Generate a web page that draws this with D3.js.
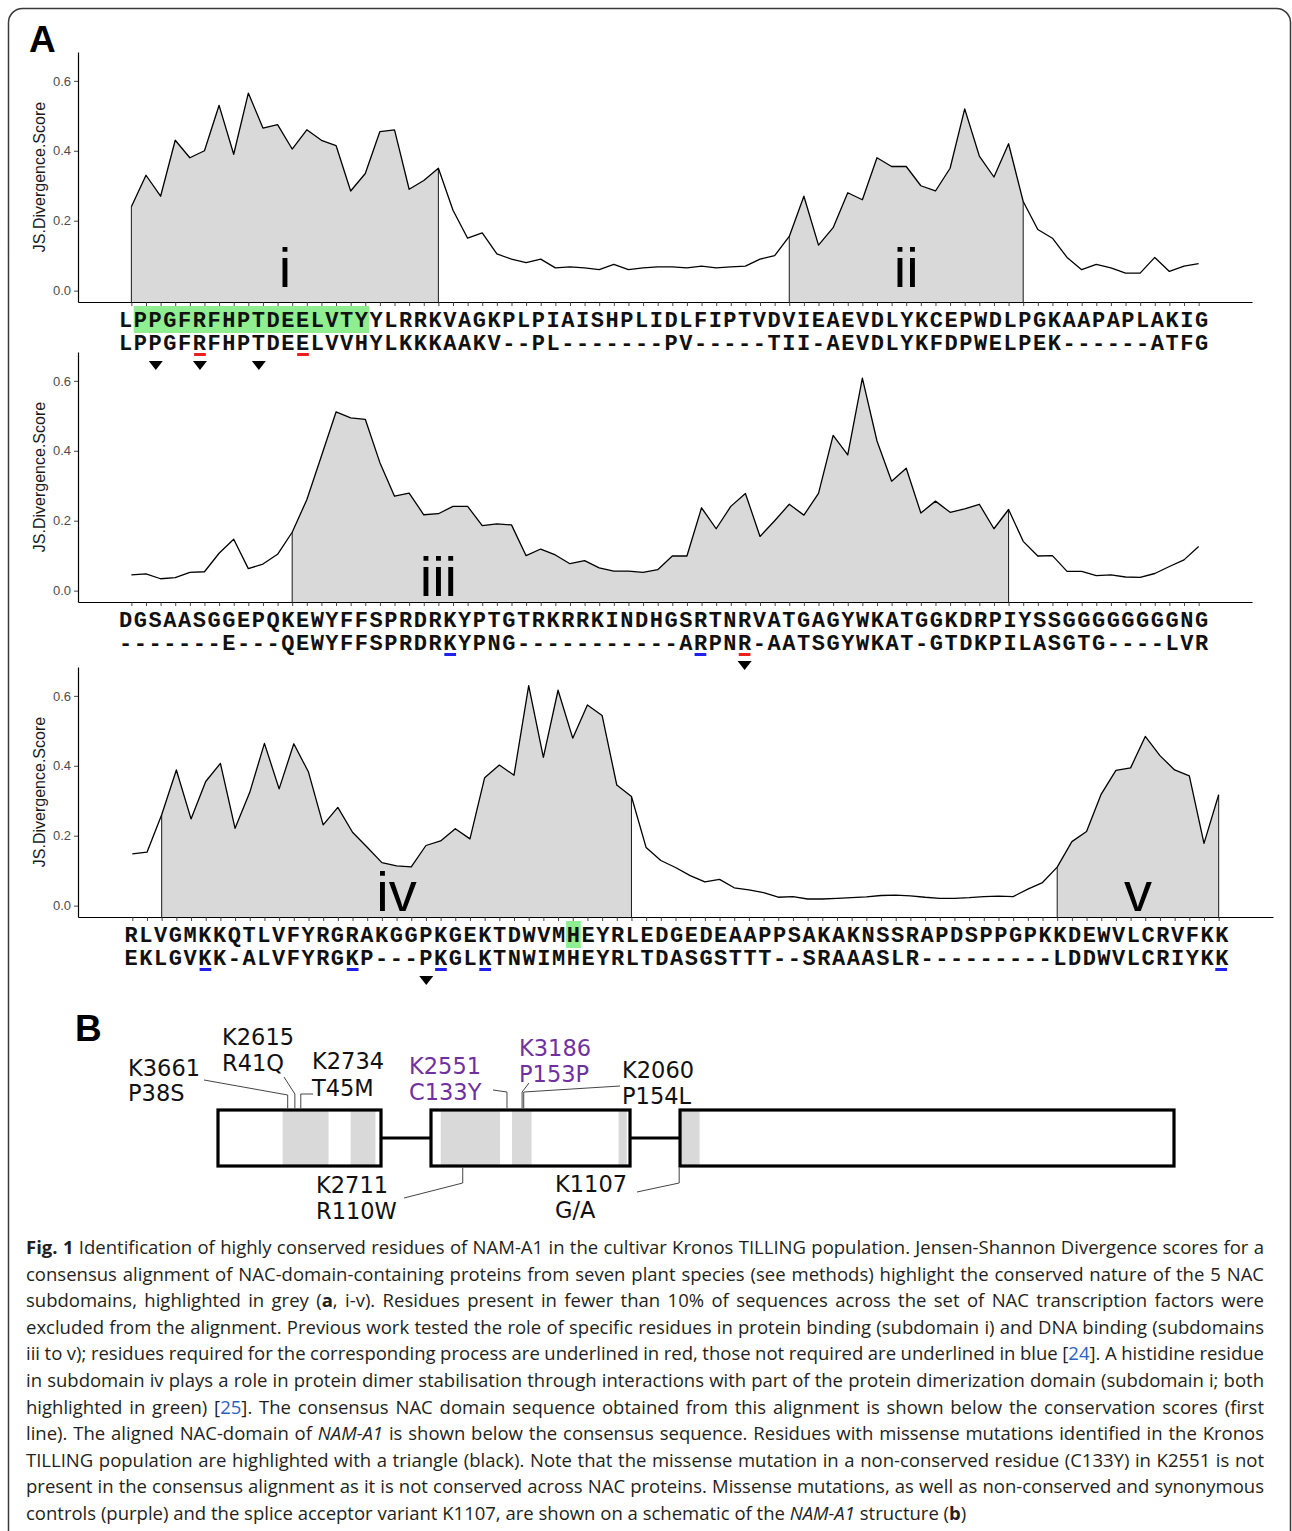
<!DOCTYPE html>
<html><head><meta charset="utf-8">
<script src="https://cdn.jsdelivr.net/npm/d3@7"></script>
<style>body{margin:0;background:#fff} svg{display:block}</style>
</head><body>
<svg id="fig" width="1292" height="1531"></svg>
<script>
// ---------------- DATA ----------------
const scores1 = [0.24,0.33,0.27,0.43,0.38,0.40,0.53,0.39,0.565,0.465,0.475,0.405,0.46,0.43,0.415,0.285,0.335,0.455,0.46,0.29,0.315,0.35,0.23,0.15,0.165,0.105,0.09,0.08,0.09,0.065,0.068,0.065,0.06,0.075,0.06,0.065,0.068,0.068,0.065,0.07,0.065,0.068,0.07,0.09,0.10,0.155,0.27,0.13,0.18,0.28,0.26,0.38,0.355,0.355,0.30,0.285,0.35,0.52,0.385,0.325,0.42,0.255,0.175,0.15,0.095,0.06,0.075,0.065,0.05,0.05,0.095,0.055,0.07,0.077];
const scores2 = [0.045,0.048,0.034,0.037,0.052,0.054,0.107,0.147,0.063,0.076,0.104,0.167,0.26,0.385,0.511,0.494,0.49,0.366,0.27,0.279,0.217,0.22,0.241,0.241,0.186,0.191,0.188,0.10,0.119,0.102,0.077,0.086,0.065,0.056,0.056,0.052,0.06,0.099,0.099,0.237,0.177,0.241,0.278,0.155,0.20,0.247,0.216,0.278,0.444,0.388,0.608,0.428,0.313,0.35,0.222,0.256,0.224,0.234,0.247,0.177,0.232,0.141,0.099,0.10,0.055,0.055,0.043,0.045,0.039,0.038,0.049,0.069,0.088,0.126];
const scores3 = [0.148,0.153,0.26,0.388,0.248,0.355,0.407,0.221,0.324,0.464,0.334,0.463,0.382,0.231,0.281,0.21,0.167,0.123,0.114,0.111,0.172,0.185,0.22,0.191,0.366,0.402,0.373,0.629,0.424,0.616,0.479,0.574,0.544,0.345,0.312,0.166,0.129,0.109,0.086,0.068,0.075,0.051,0.045,0.037,0.024,0.026,0.019,0.019,0.021,0.023,0.025,0.029,0.03,0.028,0.024,0.021,0.021,0.023,0.026,0.027,0.026,0.047,0.066,0.11,0.183,0.212,0.319,0.387,0.394,0.484,0.429,0.388,0.371,0.178,0.317];

const consensus1 = "LPPGFRFHPTDEELVTYYLRRKVAGKPLPIAISHPLIDLFIPTVDVIEAEVDLYKCEPWDLPGKAAPAPLAKIG";
const aligned1   = "LPPGFRFHPTDEELVVHYLKKKAAKV--PL-------PV-----TII-AEVDLYKFDPWELPEK------ATFG";
const consensus2 = "DGSAASGGEPQKEWYFFSPRDRKYPTGTRKRRKINDHGSRTNRVATGAGYWKATGGKDRPIYSSGGGGGGGGNG";
const aligned2   = "-------E---QEWYFFSPRDRKYPNG-----------ARPNR-AATSGYWKAT-GTDKPILASGTG----LVR";
const consensus3 = "RLVGMKKQTLVFYRGRAKGGPKGEKTDWVMHEYRLEDGEDEAAPPSAKAKNSSRAPDSPPGPKKDEWVLCRVFKK";
const aligned3   = "EKLGVKK-ALVFYRGKP---PKGLKTNWIMHEYRLTDASGSTTT--SRAAASLR---------LDDWVLCRIYKK";

// subdomain regions [startIndex, endIndex], names, label position (residue index)
const regions1 = [[0,21],[45,61]];
const regions2 = [[11,60]];
const regions3 = [[2,34],[63,74]];
const regionNames1 = ["i","ii"];
const regionNames2 = ["iii"];
const regionNames3 = ["iv","v"];
const regionLabelPos1 = [10.5,53];
const regionLabelPos2 = [21];
const regionLabelPos3 = [18,68.5];

// green highlight spans on consensus [start,end]
const highlights1 = [[1,16]];
const highlights2 = [];
const highlights3 = [[30,30]];
// underlined residues on aligned sequence
const redUnderlines1 = [5,12];
const blueUnderlines1 = [];
const redUnderlines2 = [42];
const blueUnderlines2 = [22,39];
const redUnderlines3 = [];
const blueUnderlines3 = [5,15,21,24,74];
// triangles (missense mutations)
const triangles1 = [2,5,9];
const triangles2 = [42];
const triangles3 = [20];

const yTicks = [0,0.2,0.4,0.6];
const yTitle = "JS.Divergence.Score";

// Panel B schematic (schematic units 0..1000)
const exons = [[0,170.5],[222.8,431],[483.3,1000]];
const subdomainBlocks = [[67.6,115.6],[138.7,164.7],[233,295],[307.5,328],[419,427.6],[484.3,503.8]];
const mutSamples = ["K3661","K2615","K2734","K2551","K3186","K2060","K2711","K1107"];
const mutChanges = ["P38S","R41Q","T45M","C133Y","P153P","P154L","R110W","G/A"];
const mutPositions = [72.9,80.4,86.6,302.3,318.1,319.8,256,482.4];
const mutIsControl = [false,false,false,true,true,false,false,false];

const captionLines = [
"**Fig. 1** Identification of highly conserved residues of NAM-A1 in the cultivar Kronos TILLING population. Jensen-Shannon Divergence scores for a",
"consensus alignment of NAC-domain-containing proteins from seven plant species (see methods) highlight the conserved nature of the 5 NAC",
"subdomains, highlighted in grey (**a**, i-v). Residues present in fewer than 10% of sequences across the set of NAC transcription factors were",
"excluded from the alignment. Previous work tested the role of specific residues in protein binding (subdomain i) and DNA binding (subdomains",
"iii to v); residues required for the corresponding process are underlined in red, those not required are underlined in blue [24]. A histidine residue",
"in subdomain iv plays a role in protein dimer stabilisation through interactions with part of the protein dimerization domain (subdomain i; both",
"highlighted in green) [25]. The consensus NAC domain sequence obtained from this alignment is shown below the conservation scores (first",
"line). The aligned NAC-domain of _NAM-A1_ is shown below the consensus sequence. Residues with missense mutations identified in the Kronos",
"TILLING population are highlighted with a triangle (black). Note that the missense mutation in a non-conserved residue (C133Y) in K2551 is not",
"present in the consensus alignment as it is not conserved across NAC proteins. Missense mutations, as well as non-conserved and synonymous",
"controls (purple) and the splice acceptor variant K1107, are shown on a schematic of the _NAM-A1_ structure (**b**)"
];

// ---------------- DRAW ----------------
const svg = d3.select("#fig");
svg.append("rect").attr("width",1292).attr("height",1531).attr("fill","#fff");
svg.append("rect").attr("x",8.5).attr("y",8.5).attr("width",1282).attr("height",1600)
  .attr("rx",14).attr("fill","none").attr("stroke","#3a3a3a").attr("stroke-width",1.5);

svg.append("text").attr("x",29).attr("y",52).text("A")
  .attr("font-family","Liberation Sans, Arial, sans-serif").attr("font-weight","bold").attr("font-size",37);
svg.append("text").attr("x",75).attr("y",1041).text("B")
  .attr("font-family","Liberation Sans, Arial, sans-serif").attr("font-weight","bold").attr("font-size",37);

const panels = [
  {scores:scores1, cons:consensus1, ali:aligned1, regions:regions1, names:regionNames1, labelPos:regionLabelPos1,
   hl:highlights1, red:redUnderlines1, blue:blueUnderlines1, tri:triangles1, labelV:0.01,
   top:52, bottom:302, left:78, right:1252, textX:119},
  {scores:scores2, cons:consensus2, ali:aligned2, regions:regions2, names:regionNames2, labelPos:regionLabelPos2,
   hl:highlights2, red:redUnderlines2, blue:blueUnderlines2, tri:triangles2, labelV:-0.015,
   top:352, bottom:602, left:78, right:1252, textX:119},
  {scores:scores3, cons:consensus3, ali:aligned3, regions:regions3, names:regionNames3, labelPos:regionLabelPos3,
   hl:highlights3, red:redUnderlines3, blue:blueUnderlines3, tri:triangles3, labelV:-0.015,
   top:667, bottom:917, left:78, right:1273, textX:124.5}
];
const charW = 14.72;
const monoFont = "Liberation Mono, Courier New, monospace";

panels.forEach(P => {
  const n = P.scores.length;
  const x = d3.scaleLinear().domain([-0.05*(n-1), 1.05*(n-1)]).range([P.left, P.right]);
  const y = d3.scaleLinear().domain([-0.0325, 0.6825]).range([P.bottom, P.top]);
  const g = svg.append("g");

  // subdomain areas
  P.regions.forEach(([s,e]) => {
    const pts = d3.range(s, e+1).map(i => ({i, v:P.scores[i]}));
    g.append("path")
      .attr("d", d3.area().x(d=>x(d.i)).y0(P.bottom).y1(d=>y(d.v))(pts))
      .attr("fill","#d9d9d9");
    [s,e].forEach(i => g.append("line")
      .attr("x1",x(i)).attr("x2",x(i)).attr("y1",P.bottom).attr("y2",y(P.scores[i]))
      .attr("stroke","#1a1a1a").attr("stroke-width",1));
  });
  // region labels
  P.names.forEach((nm,k) => {
    g.append("text").attr("x", x(P.labelPos[k])).attr("y", y(P.labelV))
      .attr("text-anchor","middle").attr("font-family","Liberation Sans, Arial, sans-serif")
      .attr("font-size",56).attr("fill","#000").text(nm);
  });
  // score line
  g.append("path")
    .attr("d", d3.line().x((d,i)=>x(i)).y(d=>y(d))(P.scores))
    .attr("fill","none").attr("stroke","#000").attr("stroke-width",1.3).attr("stroke-linejoin","round");

  // axes
  const xa = g.append("g").attr("transform",`translate(0,${P.bottom})`)
    .call(d3.axisBottom(x).tickValues(d3.range(n)).tickSize(4).tickSizeOuter(0).tickFormat(""));
  xa.select(".domain").attr("stroke","#000").attr("stroke-width",1.2);
  xa.selectAll(".tick line").attr("stroke","#333").attr("stroke-width",0.9);
  const ya = g.append("g").attr("transform",`translate(${P.left},0)`)
    .call(d3.axisLeft(y).tickValues(yTicks).tickFormat(d3.format(".1f")).tickSize(4).tickSizeOuter(0));
  ya.select(".domain").attr("stroke","#000").attr("stroke-width",1.2);
  ya.selectAll(".tick line").attr("stroke","#333").attr("stroke-width",0.9);
  ya.selectAll(".tick text").attr("font-family","Liberation Sans, Arial, sans-serif")
    .attr("font-size",13).attr("fill","#4d4d4d");
  g.append("text").attr("transform",`translate(45,${(P.top+P.bottom)/2}) rotate(-90)`)
    .attr("text-anchor","middle").attr("font-family","Liberation Sans, Arial, sans-serif")
    .attr("font-size",16).attr("fill","#1a1a1a").text(yTitle);

  // sequences
  const consY = P.bottom + 25, aliY = P.bottom + 48;
  P.hl.forEach(([s,e]) => g.append("rect")
    .attr("x", P.textX + s*charW).attr("width",(e-s+1)*charW)
    .attr("y", P.bottom + 4).attr("height", 27).attr("fill","#90ee90"));
  [[P.cons,consY],[P.ali,aliY]].forEach(([str,yy]) => {
    g.append("text").attr("x",P.textX).attr("y",yy)
      .attr("font-family",monoFont).attr("font-weight","bold").attr("font-size",22)
      .attr("textLength", str.length*charW).attr("lengthAdjust","spacing")
      .attr("fill","#111").text(str);
  });
  [[P.red,"#ee1c1c"],[P.blue,"#2020ee"]].forEach(([arr,col]) => arr.forEach(i =>
    g.append("rect").attr("x",P.textX + i*charW + 1.5).attr("width",charW-3)
      .attr("y",P.bottom+51).attr("height",3).attr("fill",col)));
  P.tri.forEach(i => {
    const cx = P.textX + (i+0.5)*charW, ty = P.bottom + 59;
    g.append("path").attr("d",`M${cx-7},${ty}L${cx+7},${ty}L${cx},${ty+9}Z`).attr("fill","#000");
  });
});

// ---------------- PANEL B ----------------
const sx = d3.scaleLinear().domain([0,1000]).range([218,1174]);
const boxTop = 1110, boxH = 56, midY = boxTop + boxH/2;
const gb = svg.append("g");
for (let k=0;k<exons.length-1;k++){
  gb.append("line").attr("x1",sx(exons[k][1])).attr("x2",sx(exons[k+1][0]))
    .attr("y1",midY).attr("y2",midY).attr("stroke","#000").attr("stroke-width",3.2);
}
subdomainBlocks.forEach(([a,b]) => gb.append("rect").attr("x",sx(a)).attr("width",sx(b)-sx(a))
  .attr("y",boxTop).attr("height",boxH).attr("fill","#d9d9d9"));
exons.forEach(([a,b]) => gb.append("rect").attr("x",sx(a)).attr("width",sx(b)-sx(a))
  .attr("y",boxTop).attr("height",boxH).attr("fill","none").attr("stroke","#000").attr("stroke-width",3.2));

// label layout: [textX, line1Y, line2Y, elbowY, anchorX, anchorY, above]
const labelLayout = {
  K3661:[128,1076,1101,1095,204,1080,true],
  K2615:[222,1045,1071,1094,284,1077,true],
  K2734:[312,1069,1096,1094,313,1094,true],
  K2551:[409,1074,1100,1092,493,1090,true],
  K3186:[519,1056,1082,1092,529,1083,true],
  K2060:[622,1078,1104,1092,620,1086,true],
  K2711:[316,1193,1219,1183,404,1198,false],
  K1107:[555,1192,1218,1183,637,1192,false]
};
mutSamples.forEach((s,k) => {
  const L = labelLayout[s];
  const px = sx(mutPositions[k]);
  const edgeY = L[6] ? boxTop - 1.5 : boxTop + boxH + 1.5;
  gb.append("path").attr("d",`M${px},${edgeY}L${px},${L[3]}L${L[4]},${L[5]}`)
    .attr("fill","none").attr("stroke","#444").attr("stroke-width",1);
  const col = mutIsControl[k] ? "#7030a0" : "#111";
  [[s,L[1]],[mutChanges[k],L[2]]].forEach(([t,yy]) => gb.append("text")
    .attr("x",L[0]).attr("y",yy).attr("font-family","DejaVu Sans, Verdana, sans-serif")
    .attr("font-size",22.5).attr("fill",col).text(t));
});

// ---------------- CAPTION ----------------
function parseLine(s){
  const parts=[]; const re=/\*\*(.+?)\*\*|_(.+?)_|\[(\d+)\]/g; let last=0,m;
  while((m=re.exec(s))){
    if(m.index>last) parts.push({t:s.slice(last,m.index)});
    if(m[1]) parts.push({t:m[1],b:1});
    else if(m[2]) parts.push({t:m[2],i:1});
    else { parts.push({t:"["}); parts.push({t:m[3],ref:1}); parts.push({t:"]"}); }
    last=re.lastIndex;
  }
  if(last<s.length) parts.push({t:s.slice(last)});
  return parts;
}
const capX = 26, capRight = 1264, capY0 = 1254, capDy = 26.6, capScale = 1.0;
captionLines.forEach((line,k) => {
  const t = svg.append("text")
    .attr("transform",`translate(${capX},${capY0 + k*capDy}) scale(${capScale},1)`)
    .attr("font-family","Open Sans, Noto Sans, sans-serif").attr("font-size",18.5)
    .attr("fill","#231f20").style("white-space","pre");
  parseLine(line).forEach(p => {
    const ts = t.append("tspan").text(p.t);
    if(p.b) ts.attr("font-weight","bold");
    if(p.i) ts.attr("font-style","italic");
    if(p.ref) ts.attr("fill","#2a62c0");
  });
  if (k < captionLines.length-1) {
    const w = t.node().getComputedTextLength();
    const spaces = (line.match(/ /g)||[]).length;
    const target = (capRight-capX)/capScale;
    t.attr("word-spacing", ((target - w)/spaces).toFixed(3));
  }
});
</script>
</body></html>
